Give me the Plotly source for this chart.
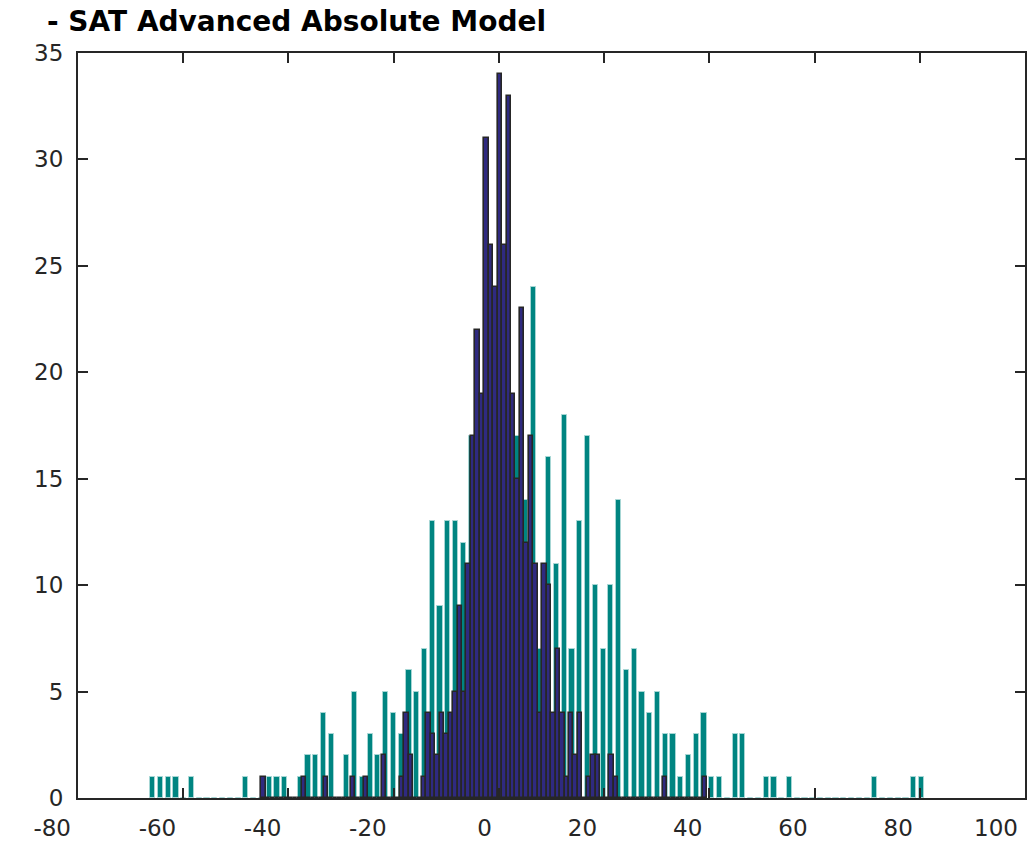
import plotly.graph_objects as go

# ---------------- data ----------------
title_text = "- SAT Advanced Absolute Model"

# teal histogram (100 bins)
teal_x0 = -65.8      # centre of first bin
teal_dx = 1.476      # bin width
teal_counts = [
    1, 1, 1, 1, 0, 1, 0, 0, 0, 0,
    0, 0, 1, 0, 0, 1, 1, 1, 0, 1,
    2, 2, 4, 3, 0, 2, 5, 1, 3, 2,
    5, 4, 3, 6, 5, 7, 13, 9, 13, 13,
    12, 17, 15, 12, 16, 15, 14, 17, 14, 24,
    7, 16, 11, 18, 7, 13, 17, 10, 7, 10,
    14, 6, 7, 5, 4, 5, 3, 3, 1, 2,
    3, 4, 1, 1, 0, 3, 3, 0, 0, 1,
    1, 0, 1, 0, 0, 0, 0, 0, 0, 0,
    0, 0, 0, 1, 0, 0, 0, 0, 1, 1,
]

# navy histogram (100 bins)
navy_x0 = -44.7
navy_dx = 0.847
navy_counts = [
    1, 0, 0, 0, 0, 0, 0, 0, 0, 1,
    0, 0, 0, 0, 1, 0, 0, 0, 0, 0,
    1, 0, 0, 1, 0, 0, 0, 2, 0, 0,
    0, 1, 4, 2, 0, 0, 1, 4, 3, 2,
    4, 3, 4, 5, 9, 5, 11, 17, 22, 19,
    31, 26, 24, 34, 26, 33, 19, 15, 23, 12,
    17, 11, 4, 11, 10, 4, 7, 4, 1, 4,
    2, 4, 0, 1, 2, 2, 0, 0, 2, 1,
    0, 0, 0, 0, 0, 0, 0, 0, 0, 0,
    1, 0, 0, 0, 0, 0, 0, 0, 0, 1,
]

x_ticks = [-80, -60, -40, -20, 0, 20, 40, 60, 80, 100]
y_ticks = [0, 5, 10, 15, 20, 25, 30, 35]
x_range = [-80, 100]
y_range = [0, 35]

# ---------------- figure ----------------
axis_col = "#262626"
tick_font = dict(family="DejaVu Sans", size=23, color=axis_col)

fig = go.Figure()
fig.add_trace(go.Bar(
    x0=teal_x0, dx=teal_dx, y=teal_counts,
    width=0.98,
    marker=dict(color="#008581", line=dict(color="#a6d6d4", width=1)),
    showlegend=False,
))
fig.add_trace(go.Bar(
    x0=navy_x0, dx=navy_dx, y=navy_counts,
    width=navy_dx,
    marker=dict(color="#2f2a80", line=dict(color=axis_col, width=1.6)),
    showlegend=False,
))

fig.update_layout(
    width=1028, height=843,
    margin=dict(l=78, r=3, t=53, b=45, pad=0, autoexpand=False),
    paper_bgcolor="white", plot_bgcolor="white",
    barmode="overlay", bargap=0,
    title=dict(
        text=title_text,
        font=dict(family="DejaVu Sans", size=28, color="#000000", weight="bold"),
        xref="container", x=47 / 1028, xanchor="left",
        yref="container", y=1 - 21 / 843, yanchor="middle",
        automargin=False,
    ),
)
fig.update_xaxes(
    range=x_range, tickvals=x_ticks, ticktext=[str(v) for v in x_ticks],
    ticks="inside", ticklen=10, tickwidth=2, tickcolor=axis_col,
    showline=True, linecolor=axis_col, linewidth=2, mirror="ticks",
    showgrid=False, zeroline=False, tickfont=tick_font, automargin=False,
    ticklabelposition="outside left", ticklabelshift=-5, ticklabelstandoff=8,
)
fig.update_yaxes(
    range=y_range, tickvals=y_ticks, ticktext=[str(v) for v in y_ticks],
    ticks="inside", ticklen=10, tickwidth=2, tickcolor=axis_col,
    showline=True, linecolor=axis_col, linewidth=2, mirror="ticks",
    showgrid=False, zeroline=False, tickfont=tick_font, automargin=False,
    ticklabelstandoff=8,
)

fig.write_html(
    "out.html",
    config={"displayModeBar": False},
    post_script="document.body.style.margin='0';document.body.style.overflow='hidden';",
)
